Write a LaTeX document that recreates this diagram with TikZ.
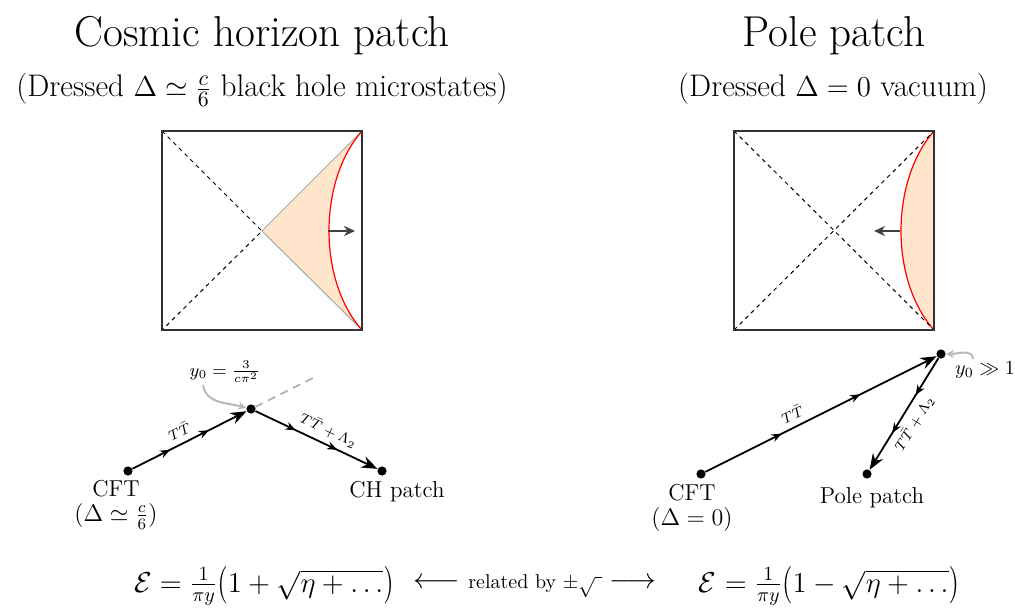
\documentclass[tikz,border=0pt]{standalone}
\usepackage{graphicx}
\usetikzlibrary{arrows.meta,decorations.markings}
\newcommand{\tallL}{\mathopen{\vcenter{\hbox{\scalebox{0.95}[1.3]{$\big($}}}}}
\newcommand{\tallR}{\mathclose{\vcenter{\hbox{\scalebox{0.95}[1.3]{$\big)$}}}}}
\begin{document}
\begin{tikzpicture}[x=0.5pt,y=-0.5pt,
  dot/.style={circle,fill=black,inner sep=0pt,minimum size=4.6pt},
  flow/.style={line width=0.9pt,
    -{Stealth[length=8pt,width=6pt]},
    postaction={decorate},
    decoration={markings,
      mark=at position 0.33 with {\arrow{Stealth[length=5pt,width=4pt]}},
      mark=at position 0.67 with {\arrow{Stealth[length=5pt,width=4pt]}}}},
  elab/.style={font=\fontsize{7.5}{9}\selectfont,inner sep=3pt},
  ptlab/.style={font=\fontsize{11.5}{13.5}\selectfont,align=center,inner sep=0pt},
  title/.style={font=\fontsize{21.6}{25}\selectfont,anchor=base,inner sep=0pt},
  subtitle/.style={font=\fontsize{15.6}{18}\selectfont,anchor=base,inner sep=0pt},
  square/.style={draw=black!80,line width=0.6pt},
  diag/.style={black,line width=0.5pt,dash pattern=on 2pt off 2pt},
  patch/.style={fill=orange!20},
  horizon/.style={red,line width=0.6pt},
  push/.style={black!75,line width=1pt,-{Stealth[length=5.5pt,width=5pt]}},
  pointer/.style={gray!55,line width=1pt,-{Stealth[length=4pt,width=4pt]}},
  eqn/.style={font=\fontsize{13.6}{17}\selectfont,inner sep=0pt},
]
\useasboundingbox (0,0) rectangle (1015,608);

% titles
\node[title] (t1) at (262,47) {Cosmic horizon patch};
\node[subtitle] (s1) at (262,97) {(Dressed $\Delta\simeq\frac{c}{6}$ black hole microstates)};
\node[title] (t2) at (834,47) {Pole patch};
\node[subtitle] (s2) at (833,97) {(Dressed $\Delta=0$ vacuum)};

% left Penrose diagram
\fill[patch] (262,231) -- (362,131) .. controls (318,181) and (318,281) .. (362,330) -- cycle;
\draw[gray!70,line width=0.5pt] (362,131) -- (262,231) -- (362,330);
\draw[horizon] (362,131) .. controls (318,181) and (318,281) .. (362,330);
\draw[diag] (162,131) -- (262,231) -- (162,330);
\draw[square] (162,131) rectangle (362,330);
\draw[push] (328,231) -- (355,231);

% right Penrose diagram
\fill[patch] (934,131) .. controls (890,181) and (890,281) .. (934,330) -- cycle;
\draw[horizon] (934,131) .. controls (890,181) and (890,281) .. (934,330);
\draw[diag] (734,131) -- (934,330);
\draw[diag] (734,330) -- (934,131);
\draw[square] (734,131) rectangle (934,330);
\draw[push] (900,231) -- (874,231);

% left flow
\node[dot] (cft1) at (128,471) {};
\node[dot] (mid1) at (251,409) {};
\node[dot] (ch) at (382,471) {};
\coordinate (ext1) at (313,378);
\draw[gray!60,line width=1pt,dash pattern=on 4pt off 3pt] (mid1) -- (ext1);
\draw[flow] (cft1) -- node[elab,sloped,above,pos=0.46] {$T\bar T$} (mid1);
\draw[flow] (mid1) -- node[elab,sloped,above,pos=0.55] {$T\bar T+\Lambda_2$} (ch);
\node[font=\fontsize{9}{11}\selectfont,inner sep=1pt] (ylab1) at (225,372) {$y_0=\frac{3}{c\pi^2}$};
\draw[pointer] ([xshift=-11pt]ylab1.south) to[out=-80,in=165] (mid1);
\node[ptlab] (cftl1) at (116,505) {CFT\\[-1pt]$(\Delta\simeq\frac{c}{6})$};
\node[ptlab] (chl) at (397,492) {CH patch};

% right flow
\node[dot] (cft2) at (701,474) {};
\node[dot] (top2) at (941,354) {};
\node[dot] (pole) at (867,474) {};
\draw[flow] (cft2) -- node[elab,sloped,above,pos=0.4] {$T\bar T$} (top2);
\draw[flow] (top2) -- node[elab,sloped,below,pos=0.52] {$T\bar T+\Lambda_2$} (pole);
\node[font=\fontsize{10}{12}\selectfont,inner sep=1pt] (ylab2) at (985,370) {$y_0\gg1$};
\draw[pointer] ([xshift=-6pt]ylab2.north) to[out=90,in=0] (top2);
\node[ptlab] (cftl2) at (692,508) {CFT\\[-1pt]$(\Delta=0)$};
\node[ptlab] (polel) at (872,498) {Pole patch};

% bottom relation
\node[eqn] (eq1) at (264,586)
  {$\mathcal{E}=\frac{1}{\pi y}\tallL1+\sqrt{\eta+\dots}\tallR$};
\node[eqn] (rel) at (535,586)
  {$\longleftarrow$\hspace{4pt}{\fontsize{10}{12}\selectfont related by $\pm\sqrt{\ }$}\hspace{4pt}$\longrightarrow$};
\node[eqn] (eq2) at (829,586)
  {$\mathcal{E}=\frac{1}{\pi y}\tallL1-\sqrt{\eta+\dots}\tallR$};
\end{tikzpicture}
\end{document}
